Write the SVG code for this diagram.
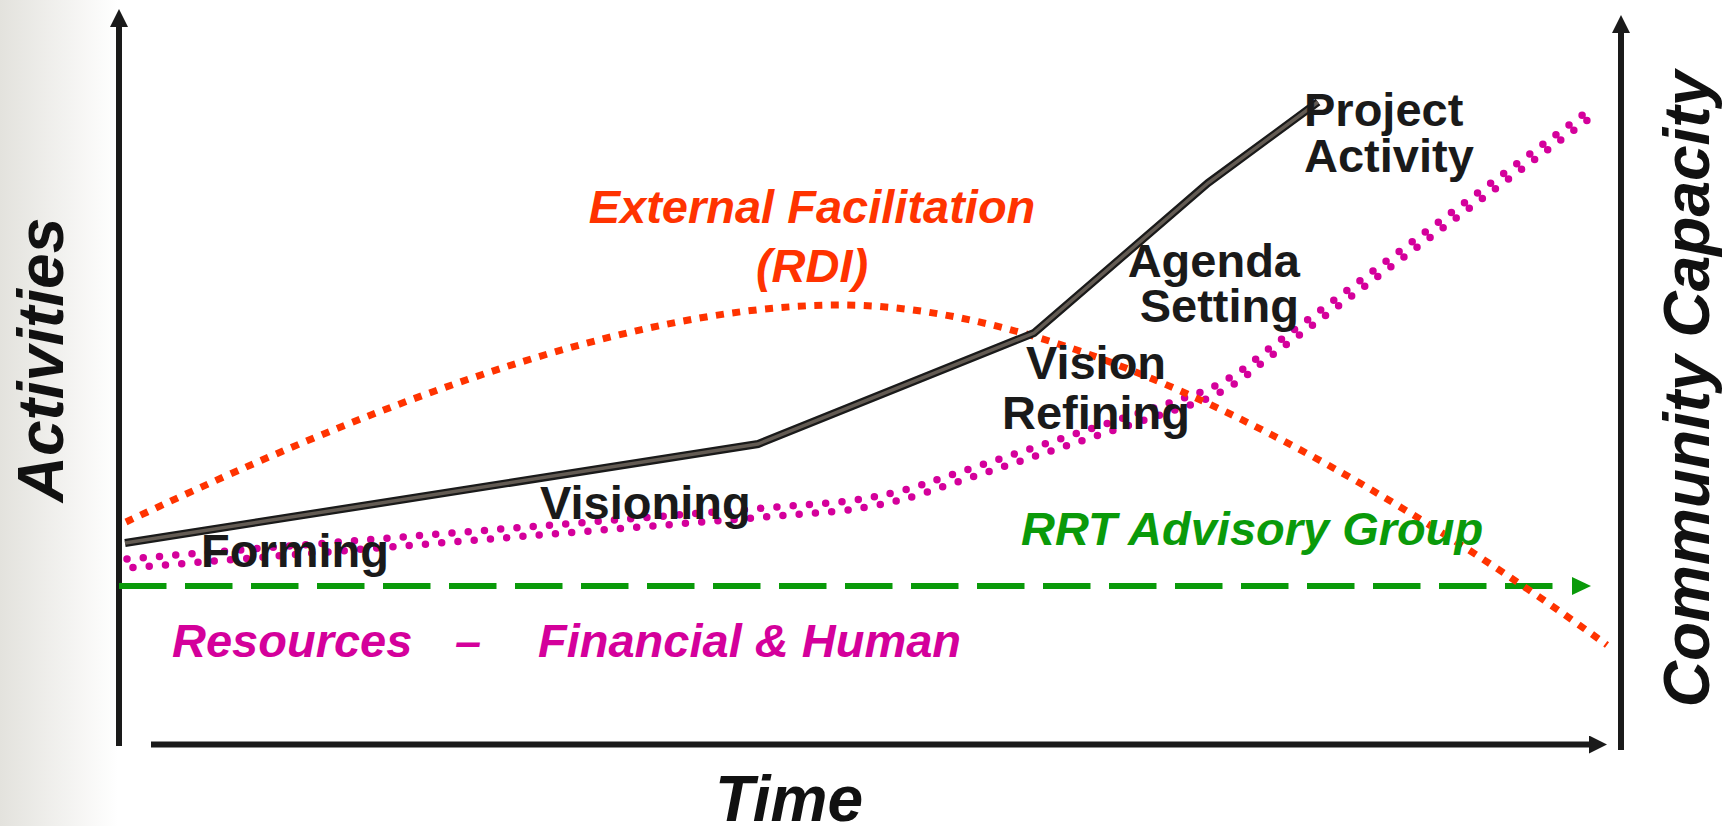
<svg xmlns="http://www.w3.org/2000/svg" width="1728" height="826" viewBox="0 0 1728 826">
  <defs>
    <linearGradient id="leftShade" x1="0" y1="0" x2="1" y2="0">
      <stop offset="0" stop-color="#e3e2dd"/>
      <stop offset="1" stop-color="#ffffff"/>
    </linearGradient>
    <marker id="axisHead" markerUnits="userSpaceOnUse" markerWidth="18" markerHeight="18" refX="0" refY="9" orient="auto" viewBox="0 0 18 18">
      <path d="M0,0 L18,9 L0,18 z" fill="#1a1a1a"/>
    </marker>
    <marker id="greenHead" markerUnits="userSpaceOnUse" markerWidth="20" markerHeight="18" refX="-1" refY="9" orient="auto" viewBox="-1 0 20 18">
      <path d="M0,0 L19,9 L0,18 z" fill="#0a9a0a"/>
    </marker>
    <style>
      .axis { fill: none; stroke: #1a1a1a; stroke-width: 6; }
      .lbl { font-family: "Liberation Sans", Arial, sans-serif; font-weight: bold; }
      .ital { font-style: italic; }
      .black { fill: #1a1a1a; font-size: 47px; }
      .axislbl { fill: #111111; font-size: 64px; font-style: italic; }
      .orange { fill: #ff3300; font-size: 47px; }
      .green { fill: #0a9a0a; font-size: 47px; }
      .magenta { fill: #d4009b; font-size: 47px; }
      .facil { fill: none; stroke: #ff3300; stroke-width: 7; stroke-dasharray: 8 8.5; }
      .res { fill: none; stroke: #d4009b; stroke-width: 7.5; stroke-linecap: round; stroke-dasharray: 0 16.3; }
      .actOuter { fill: none; stroke: #1a1a1a; stroke-width: 8; stroke-linejoin: miter; }
      .actInner { fill: none; stroke: #635b53; stroke-width: 3.5; stroke-linejoin: miter; }
    </style>
  </defs>

  <rect x="0" y="0" width="1728" height="826" fill="#ffffff"/>
  <rect id="shade" x="0" y="0" width="118" height="826" fill="url(#leftShade)"/>

  <g id="connectors">
    <!-- axes -->
    <path id="axis-activities" class="axis" d="M119,746 L119,27" marker-end="url(#axisHead)"/>
    <path id="axis-capacity" class="axis" d="M1621,750 L1621,33" stroke="#2b2b2b" marker-end="url(#axisHead)"/>
    <path id="axis-time" class="axis" d="M151,744.5 L1589,744.5" marker-end="url(#axisHead)"/>
    <!-- RRT advisory group dashed arrow -->
    <path id="rrt-line" d="M119,586 L1571,586" fill="none" stroke="#0a9a0a" stroke-width="6" stroke-dasharray="47.5 18.5" marker-end="url(#greenHead)"/>
    <!-- Resources (double dotted band) -->
    <path id="resources-a" class="res" d="M127,559 L840,502 Q895,495 930,482 L1190,396 Q1228,384 1263,353 L1589,110"/>
    <path id="resources-b" class="res" transform="translate(0,9)" stroke-dashoffset="-6" d="M127,559 L840,502 Q895,495 930,482 L1190,396 Q1228,384 1263,353 L1589,110"/>
    <!-- External facilitation -->
    <path id="facilitation" class="facil" d="M126,522 C300,440 600,305 840,305 C1080,305 1380,480 1607,645"/>
    <!-- Project activity -->
    <g id="activity-line">
      <path class="actOuter" d="M125,543 L758,444 L1034,333 L1208,183 L1318,102"/>
      <path class="actInner" d="M125,543 L758,444 L1034,333 L1208,183 L1318,102"/>
    </g>
  </g>

  <g id="label-activities">
    <text class="lbl axislbl" transform="translate(63,360) rotate(-90)" text-anchor="middle">Activities</text>
  </g>
  <g id="label-capacity">
    <text class="lbl axislbl" transform="translate(1709,389) rotate(-90)" text-anchor="middle">Community Capacity</text>
  </g>
  <g id="label-time">
    <text class="lbl axislbl" x="789" y="821" text-anchor="middle">Time</text>
  </g>
  <g id="label-facilitation">
    <text class="lbl orange ital" x="812" y="223" text-anchor="middle">External Facilitation</text>
    <text class="lbl orange ital" x="812" y="282" text-anchor="middle">(RDI)</text>
  </g>
  <g id="label-project">
    <text class="lbl black" x="1304" y="126">Project</text>
    <text class="lbl black" x="1304" y="172">Activity</text>
  </g>
  <g id="label-agenda">
    <text class="lbl black" x="1300" y="277" text-anchor="end">Agenda</text>
    <text class="lbl black" x="1299" y="322" text-anchor="end">Setting</text>
  </g>
  <g id="label-vision">
    <text class="lbl black" x="1096" y="379" text-anchor="middle">Vision</text>
    <text class="lbl black" x="1096" y="429" text-anchor="middle">Refining</text>
  </g>
  <g id="label-visioning">
    <text class="lbl black" x="540" y="519">Visioning</text>
  </g>
  <g id="label-forming">
    <text class="lbl black" x="201" y="567">Forming</text>
  </g>
  <g id="label-rrt">
    <text class="lbl green ital" x="1021" y="545">RRT Advisory Group</text>
  </g>
  <g id="label-resources">
    <text class="lbl magenta ital" y="657"><tspan x="172">Resources</tspan><tspan x="455">–</tspan><tspan x="538">Financial &amp; Human</tspan></text>
  </g>
</svg>
